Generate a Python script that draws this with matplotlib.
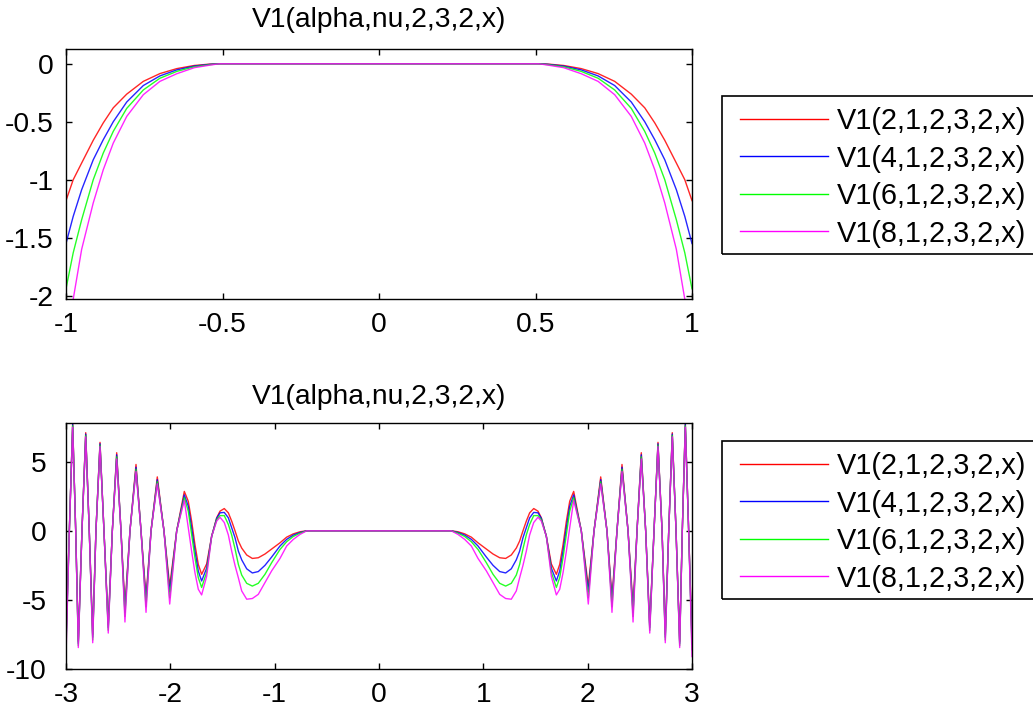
import matplotlib
matplotlib.use("Agg")
import matplotlib.pyplot as plt
from matplotlib.patches import Rectangle

plt.rcParams['font.family'] = ['Liberation Sans', 'DejaVu Sans']
plt.rcParams['axes.unicode_minus'] = False

# ---- data -------------------------------------------------------------
labels = ['V1(2,1,2,3,2,x)', 'V1(4,1,2,3,2,x)', 'V1(6,1,2,3,2,x)', 'V1(8,1,2,3,2,x)']
colors = ['#ff0000', '#0000ff', '#00ff00', '#ff00ff']
title_text = 'V1(alpha,nu,2,3,2,x)'

# upper panel, x in [-1, 1]
x_top = [-1.0, -0.977, -0.95, -0.913, -0.881, -0.849, -0.806, -0.753, -0.70, -0.646,
         -0.59, -0.54, -0.51, 0.0,
         0.51, 0.54, 0.59, 0.646, 0.70, 0.753, 0.806, 0.849, 0.881, 0.913, 0.95, 0.977, 1.0]
y_top_a2 = [-1.18, -1.0, -0.856, -0.66, -0.51, -0.38, -0.262, -0.152, -0.085, -0.042,
            -0.015, -0.003, 0.0, 0.0,
            0.0, -0.003, -0.015, -0.042, -0.085, -0.152, -0.262, -0.38, -0.51, -0.66, -0.856, -1.0, -1.18]
y_top_a4 = [-1.55, -1.316, -1.086, -0.828, -0.655, -0.5, -0.33, -0.188, -0.105, -0.053,
            -0.02, -0.005, 0.0, 0.0,
            0.0, -0.005, -0.02, -0.053, -0.105, -0.188, -0.33, -0.5, -0.655, -0.828, -1.086, -1.316, -1.55]
y_top_a6 = [-1.94, -1.63, -1.345, -1.0, -0.77, -0.583, -0.385, -0.226, -0.125, -0.066,
            -0.026, -0.008, 0.0, 0.0,
            0.0, -0.008, -0.026, -0.066, -0.125, -0.226, -0.385, -0.583, -0.77, -1.0, -1.345, -1.63, -1.94]
y_top_a8 = [-2.35, -2.03, -1.60, -1.20, -0.914, -0.684, -0.454, -0.267, -0.152, -0.086,
            -0.034, -0.012, 0.0, 0.0,
            0.0, -0.012, -0.034, -0.086, -0.152, -0.267, -0.454, -0.684, -0.914, -1.20, -1.60, -2.03, -2.35]

# lower panel, x in [-3, 3]
x_bot = [-3.000, -2.968, -2.936, -2.907, -2.882, -2.847, -2.811, -2.777, -2.744, -2.713,
         -2.674, -2.636, -2.595, -2.556, -2.514, -2.473, -2.435, -2.387, -2.329, -2.281,
         -2.233, -2.185, -2.125, -2.061, -2.006, -1.939, -1.866, -1.828, -1.796, -1.764,
         -1.732, -1.700, -1.652, -1.604, -1.556, -1.524, -1.483, -1.444, -1.412, -1.380,
         -1.348, -1.316, -1.268, -1.214, -1.157, -1.093, -1.029, -0.949, -0.885, -0.821,
         -0.757, -0.693,
         0.0,
         0.693, 0.757,
         0.821, 0.885, 0.949, 1.029, 1.093, 1.157, 1.214, 1.268, 1.316, 1.348,
         1.380, 1.412, 1.444, 1.483, 1.524, 1.556, 1.604, 1.652, 1.700, 1.732,
         1.764, 1.796, 1.828, 1.866, 1.939, 2.006, 2.061, 2.125, 2.185, 2.233,
         2.281, 2.329, 2.387, 2.435, 2.473, 2.514, 2.556, 2.595, 2.636, 2.674,
         2.713, 2.744, 2.777, 2.811, 2.847, 2.882, 2.907, 2.936, 2.968, 3.000]

y_bot_a2 = [-7.8, 0, 7.8, 0, -8.0, 0, 7.1, 0, -7.5, 0,
            6.4, 0, -6.8, 0, 5.65, 0, -5.5, 0, 4.8, 0,
            -4.8, 0, 3.9, 0, -4.0, 0, 2.85, 2.14, 0.7, -1.0,
            -2.43, -3.15, -2.4, -0.4, 0.94, 1.42, 1.61, 1.3, 0.7, 0.0,
            -0.74, -1.25, -1.75, -2.0, -1.95, -1.68, -1.32, -0.87, -0.46, -0.22,
            -0.07, 0.0,
            0.0,
            0.0, -0.07,
            -0.22, -0.46, -0.87, -1.32, -1.68, -1.95, -2.0, -1.75, -1.25, -0.74,
            0.0, 0.7, 1.3, 1.61, 1.42, 0.94, -0.4, -2.4, -3.15, -2.43,
            -1.0, 0.7, 2.14, 2.85, 0, -4.0, 0, 3.9, 0, -4.8,
            0, 4.8, 0, -5.5, 0, 5.65, 0, -6.8, 0, 6.4,
            0, -7.5, 0, 7.1, 0, -8.0, 0, 7.8, 0, -7.8]

y_bot_a4 = [-8.2, 0, 7.7, 0, -8.15, 0, 7.0, 0, -7.7, 0,
            6.3, 0, -7.0, 0, 5.5, 0, -5.9, 0, 4.6, 0,
            -5.15, 0, 3.7, 0, -4.4, 0, 2.6, 1.78, 0.22, -1.47,
            -2.91, -3.63, -2.7, -0.4, 0.9, 1.3, 1.33, 0.94, 0.22, -0.5,
            -1.47, -2.1, -2.75, -3.05, -2.95, -2.5, -1.9, -1.1, -0.62, -0.31,
            -0.12, 0.0,
            0.0,
            0.0, -0.12,
            -0.31, -0.62, -1.1, -1.9, -2.5, -2.95, -3.05, -2.75, -2.1, -1.47,
            -0.5, 0.22, 0.94, 1.33, 1.3, 0.9, -0.4, -2.7, -3.63, -2.91,
            -1.47, 0.22, 1.78, 2.6, 0, -4.4, 0, 3.7, 0, -5.15,
            0, 4.6, 0, -5.9, 0, 5.5, 0, -7.0, 0, 6.3,
            0, -7.7, 0, 7.0, 0, -8.15, 0, 7.7, 0, -8.2]

y_bot_a6 = [-8.6, 0, 7.6, 0, -8.3, 0, 6.9, 0, -7.9, 0,
            6.2, 0, -7.2, 0, 5.35, 0, -6.2, 0, 4.45, 0,
            -5.5, 0, 3.55, 0, -4.85, 0, 2.4, 1.42, -0.26, -1.95,
            -3.39, -4.1, -3.0, -0.4, 0.8, 1.1, 1.1, 0.46, -0.3, -1.3,
            -2.43, -3.2, -3.8, -4.0, -3.8, -3.15, -2.31, -1.35, -0.79, -0.41,
            -0.17, 0.0,
            0.0,
            0.0, -0.17,
            -0.41, -0.79, -1.35, -2.31, -3.15, -3.8, -4.0, -3.8, -3.2, -2.43,
            -1.3, -0.3, 0.46, 1.1, 1.1, 0.8, -0.4, -3.0, -4.1, -3.39,
            -1.95, -0.26, 1.42, 2.4, 0, -4.85, 0, 3.55, 0, -5.5,
            0, 4.45, 0, -6.2, 0, 5.35, 0, -7.2, 0, 6.2,
            0, -7.9, 0, 6.9, 0, -8.3, 0, 7.6, 0, -8.6]

y_bot_a8 = [-9.1, 0, 7.5, 0, -8.45, 0, 6.8, 0, -8.1, 0,
            6.1, 0, -7.4, 0, 5.2, 0, -6.6, 0, 4.3, 0,
            -5.9, 0, 3.4, 0, -5.3, 0, 2.2, 0.22, -1.47, -3.03,
            -4.23, -4.64, -3.3, -0.4, 0.7, 0.98, 0.6, -0.3, -1.47, -2.5,
            -3.4, -4.35, -4.95, -4.9, -4.6, -3.75, -2.9, -2.0, -1.1, -0.62,
            -0.26, 0.0,
            0.0,
            0.0, -0.26,
            -0.62, -1.1, -2.0, -2.9, -3.75, -4.6, -4.9, -4.95, -4.35, -3.4,
            -2.5, -1.47, -0.3, 0.6, 0.98, 0.7, -0.4, -3.3, -4.64, -4.23,
            -3.03, -1.47, 0.22, 2.2, 0, -5.3, 0, 3.4, 0, -5.9,
            0, 4.3, 0, -6.6, 0, 5.2, 0, -7.4, 0, 6.1,
            0, -8.1, 0, 6.8, 0, -8.45, 0, 7.5, 0, -9.1]

top_xticks = [-1, -0.5, 0, 0.5, 1]
top_xticklabels = ['-1', '-0.5', '0', '0.5', '1']
top_yticks = [0, -0.5, -1, -1.5, -2]
top_yticklabels = ['0', '-0.5', '-1', '-1.5', '-2']
bot_xticks = [-3, -2, -1, 0, 1, 2, 3]
bot_xticklabels = ['-3', '-2', '-1', '0', '1', '2', '3']
bot_yticks = [5, 0, -5, -10]
bot_yticklabels = ['5', '0', '-5', '-10']

# ---- figure -------------------------------------------------------------
W, H = 1033, 706
fig = plt.figure(figsize=(W / 100, H / 100), dpi=100)
FS = 20.3
LEG_FS = 20.8


def px_axes(left, top, right, bottom):
    return fig.add_axes([left / W, 1 - bottom / H, (right - left) / W, (bottom - top) / H])


def style(ax, xt, xtl, yt, ytl, xlim, ylim, title, title_pad, ypad):
    ax.set_xlim(*xlim)
    ax.set_ylim(*ylim)
    ax.set_xticks(xt)
    ax.set_xticklabels(xtl)
    ax.set_yticks(yt)
    ax.set_yticklabels(ytl)
    ax.tick_params(direction='in', length=4, width=1, top=True, right=True,
                   labelsize=FS)
    ax.tick_params(axis='x', pad=9)
    ax.tick_params(axis='y', pad=ypad)
    for s in ax.spines.values():
        s.set_linewidth(1.0)
    ax.set_title(title, fontsize=FS, pad=title_pad)


def legend_box(ax, top_px):
    handles = ax.get_lines()
    leg = fig.legend(handles, labels, loc='upper left',
                     bbox_to_anchor=(740 / W, 1 - (top_px + 11) / H),
                     frameon=False, fontsize=LEG_FS, handlelength=3.05,
                     handletextpad=0.3, labelspacing=0.33, borderpad=0,
                     borderaxespad=0)
    for h in leg.legend_handles:
        h.set_alpha(1)
    fig.patches.append(Rectangle((722 / W, 1 - (top_px + 158) / H), 330 / W, 158 / H,
                                 transform=fig.transFigure, fill=False,
                                 edgecolor='black', linewidth=1.2))


ax1 = px_axes(66, 49, 692, 299)
for y, c in zip([y_top_a2, y_top_a4, y_top_a6, y_top_a8], colors):
    ax1.plot(x_top, y, color=c, linewidth=1.0, alpha=0.85)
style(ax1, top_xticks, top_xticklabels, top_yticks, top_yticklabels,
      (-1, 1), (-2.028, 0.127), title_text, 16, 9)
legend_box(ax1, 96)

ax2 = px_axes(66, 423, 692, 669)
for y, c in zip([y_bot_a2, y_bot_a4, y_bot_a6, y_bot_a8], colors):
    ax2.plot(x_bot, y, color=c, linewidth=1.0, alpha=0.85)
style(ax2, bot_xticks, bot_xticklabels, bot_yticks, bot_yticklabels,
      (-3, 3), (-9.97, 7.8), title_text, 14, 14)
legend_box(ax2, 441)

fig.savefig('out.png', dpi=100)
